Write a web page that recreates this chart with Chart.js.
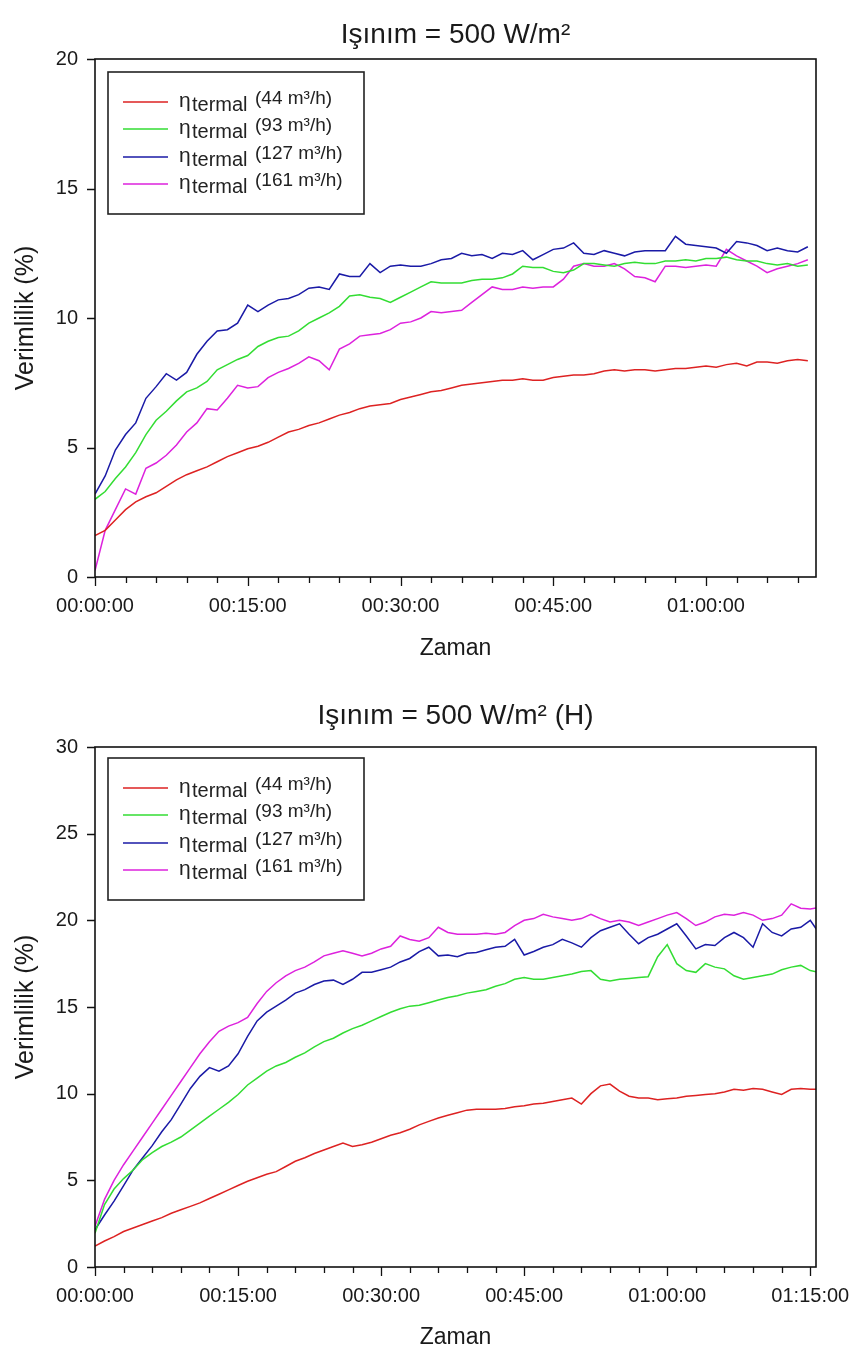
<!DOCTYPE html>
<html>
<head>
<meta charset="utf-8">
<script src="https://cdn.jsdelivr.net/npm/chart.js@4.4.1/dist/chart.umd.min.js"></script>
<style>
  body { margin: 0; background: #fff; }
  .wrap { position: absolute; left: 0; width: 854px; }
</style>
</head>
<body>
<div class="wrap" style="top:0;height:672px"><canvas id="chart-top"></canvas></div>
<div class="wrap" style="top:672px;height:681px"><canvas id="chart-bottom"></canvas></div>
<script>
// shared legend / series info
const flowRates = ['44', '93', '127', '161'];
const lineColors = ['#dd2222', '#33dd33', '#1a1aa6', '#dd22dd'];

// --- top chart: Işınım = 500 W/m² (time in minutes) ---
const time1 = [0,1,2,3,4,5,6,7,8,9,10,11,12,13,14,15,16,17,18,19,20,21,22,23,24,25,26,27,28,29,30,31,32,33,34,35,36,37,38,39,40,41,42,43,44,45,46,47,48,49,50,51,52,53,54,55,56,57,58,59,60,61,62,63,64,65,66,67,68,69,70];
const eff44a = [1.6,1.8,2.2,2.6,2.9,3.1,3.25,3.5,3.75,3.95,4.1,4.25,4.45,4.65,4.8,4.95,5.05,5.2,5.4,5.6,5.7,5.85,5.95,6.1,6.25,6.35,6.5,6.6,6.65,6.7,6.85,6.95,7.05,7.15,7.2,7.3,7.4,7.45,7.5,7.55,7.6,7.6,7.65,7.6,7.6,7.7,7.75,7.8,7.8,7.85,7.95,8.0,7.95,8.0,8.0,7.95,8.0,8.05,8.05,8.1,8.15,8.1,8.2,8.25,8.15,8.3,8.3,8.25,8.35,8.4,8.35];
const eff93a = [3.0,3.3,3.8,4.25,4.8,5.5,6.05,6.4,6.8,7.15,7.3,7.55,8.0,8.2,8.4,8.55,8.9,9.1,9.25,9.3,9.5,9.8,10.0,10.2,10.45,10.85,10.9,10.8,10.75,10.6,10.8,11.0,11.2,11.4,11.35,11.35,11.35,11.45,11.5,11.5,11.55,11.7,12.0,11.95,11.95,11.8,11.75,11.85,12.1,12.1,12.05,12.0,12.1,12.15,12.1,12.1,12.2,12.2,12.25,12.2,12.3,12.3,12.35,12.25,12.2,12.2,12.1,12.05,12.1,12.0,12.05];
const eff127a = [3.2,3.9,4.9,5.5,5.95,6.9,7.35,7.85,7.6,7.9,8.6,9.1,9.5,9.55,9.8,10.5,10.25,10.5,10.7,10.75,10.9,11.15,11.2,11.1,11.7,11.6,11.6,12.1,11.75,12.0,12.05,12.0,12.0,12.1,12.25,12.3,12.5,12.4,12.45,12.3,12.5,12.45,12.6,12.25,12.45,12.65,12.7,12.9,12.5,12.45,12.6,12.5,12.4,12.55,12.6,12.6,12.6,13.15,12.85,12.8,12.75,12.7,12.5,12.95,12.9,12.8,12.6,12.7,12.6,12.55,12.75];
const eff161a = [0.25,1.8,2.6,3.4,3.2,4.2,4.4,4.7,5.1,5.6,5.95,6.5,6.45,6.9,7.4,7.3,7.35,7.7,7.9,8.05,8.25,8.5,8.35,8.0,8.8,9.0,9.3,9.35,9.4,9.55,9.8,9.85,10.0,10.25,10.2,10.25,10.3,10.6,10.9,11.2,11.1,11.1,11.2,11.15,11.2,11.2,11.5,12.0,12.1,12.0,12.0,12.1,11.9,11.6,11.55,11.4,12.0,12.0,11.95,12.0,12.05,12.0,12.65,12.4,12.2,12.0,11.75,11.9,12.0,12.1,12.25];
const xTicks1 = [0, 15, 30, 45, 60];
const xTickLabels1 = ['00:00:00', '00:15:00', '00:30:00', '00:45:00', '01:00:00'];
const xMinor1 = [0,3,6,9,12,15,18,21,24,27,30,33,36,39,42,45,48,51,54,57,60,63,66,69];
const yTicks1 = [0, 5, 10, 15, 20];

// --- bottom chart: Işınım = 500 W/m² (H) ---
const time2 = [0,1,2,3,4,5,6,7,8,9,10,11,12,13,14,15,16,17,18,19,20,21,22,23,24,25,26,27,28,29,30,31,32,33,34,35,36,37,38,39,40,41,42,43,44,45,46,47,48,49,50,51,52,53,54,55,56,57,58,59,60,61,62,63,64,65,66,67,68,69,70,71,72,73,74,75,76];
const eff44b = [1.2,1.5,1.75,2.05,2.25,2.45,2.65,2.85,3.1,3.3,3.5,3.7,3.95,4.2,4.45,4.7,4.95,5.15,5.35,5.5,5.8,6.1,6.3,6.55,6.75,6.95,7.15,6.95,7.05,7.2,7.4,7.6,7.75,7.95,8.2,8.4,8.6,8.75,8.9,9.05,9.1,9.1,9.1,9.15,9.25,9.3,9.4,9.45,9.55,9.65,9.75,9.4,10.0,10.45,10.55,10.15,9.85,9.75,9.75,9.65,9.7,9.75,9.85,9.9,9.95,10.0,10.1,10.25,10.2,10.3,10.25,10.1,9.95,10.25,10.3,10.25,10.25];
const eff93b = [1.95,3.6,4.5,5.1,5.6,6.2,6.6,6.95,7.2,7.5,7.9,8.3,8.7,9.1,9.5,9.95,10.5,10.9,11.3,11.6,11.8,12.1,12.35,12.7,13.0,13.2,13.5,13.75,13.95,14.2,14.45,14.7,14.9,15.05,15.1,15.25,15.4,15.55,15.65,15.8,15.9,16.0,16.2,16.35,16.6,16.7,16.6,16.6,16.7,16.8,16.9,17.05,17.1,16.6,16.5,16.6,16.65,16.7,16.75,17.9,18.6,17.5,17.1,17.0,17.5,17.3,17.2,16.8,16.6,16.7,16.8,16.9,17.15,17.3,17.4,17.1,17.0];
const eff127b = [2.15,3.0,3.8,4.7,5.6,6.3,7.0,7.8,8.5,9.4,10.3,11.0,11.5,11.3,11.6,12.3,13.3,14.2,14.7,15.05,15.4,15.8,16.0,16.3,16.5,16.55,16.3,16.6,17.0,17.0,17.15,17.3,17.6,17.8,18.2,18.45,17.95,18.0,17.9,18.1,18.15,18.3,18.45,18.5,18.9,18.0,18.2,18.45,18.6,18.9,18.7,18.45,19.0,19.4,19.6,19.8,19.2,18.65,19.0,19.2,19.5,19.8,19.1,18.35,18.6,18.55,19.0,19.3,19.0,18.45,19.8,19.3,19.1,19.5,19.6,20.0,19.2];
const eff161b = [2.35,3.9,5.0,5.9,6.7,7.5,8.3,9.1,9.9,10.7,11.5,12.3,13.0,13.6,13.9,14.1,14.4,15.2,15.9,16.4,16.8,17.1,17.3,17.6,17.95,18.1,18.25,18.1,17.95,18.1,18.35,18.5,19.1,18.9,18.8,19.0,19.6,19.3,19.2,19.2,19.2,19.25,19.2,19.3,19.7,20.0,20.1,20.35,20.2,20.1,20.0,20.1,20.35,20.1,19.9,20.0,19.9,19.7,19.9,20.1,20.3,20.45,20.1,19.7,19.9,20.2,20.35,20.3,20.45,20.3,20.0,20.1,20.3,20.95,20.7,20.65,20.75];
const xTicks2 = [0, 15, 30, 45, 60, 75];
const xTickLabels2 = ['00:00:00', '00:15:00', '00:30:00', '00:45:00', '01:00:00', '01:15:00'];
const xMinor2 = [0,3,6,9,12,15,18,21,24,27,30,33,36,39,42,45,48,51,54,57,60,63,66,69,72,75];
const yTicks2 = [0, 5, 10, 15, 20, 25, 30];

const FONT = '"Liberation Sans", Arial, sans-serif';

// title over the plot, box around the plot, outside tick marks and the legend with subscripts
const framePlugin = {
  id: 'frame',
  afterDatasetsDraw(chart, args, opts) {
    const { ctx, chartArea: a, scales } = chart;
    const x = scales.x, y = scales.y;
    ctx.save();

    ctx.fillStyle = '#1a1a1a';
    ctx.textAlign = 'center';
    ctx.textBaseline = 'middle';
    ctx.font = '28px ' + FONT;
    ctx.fillText(opts.title, (a.left + a.right) / 2, opts.titleY);

    ctx.strokeStyle = '#111';
    ctx.lineWidth = 1.6;
    ctx.strokeRect(a.left, a.top, a.right - a.left, a.bottom - a.top);

    ctx.lineWidth = 1.3;
    ctx.beginPath();
    for (const v of opts.yTicks) {
      const py = Math.round(y.getPixelForValue(v)) + 0.5;
      ctx.moveTo(a.left - 8, py);
      ctx.lineTo(a.left, py);
    }
    for (const v of opts.xMinor) {
      const px = Math.round(x.getPixelForValue(v)) + 0.5;
      const len = opts.xTicks.includes(v) ? 9 : 6;
      ctx.moveTo(px, a.bottom);
      ctx.lineTo(px, a.bottom + len);
    }
    ctx.stroke();

    // legend
    const bx = 108, by = a.top + opts.legendTop, bw = 256, bh = 142;
    ctx.fillStyle = '#fff';
    ctx.fillRect(bx, by, bw, bh);
    ctx.strokeStyle = '#222';
    ctx.lineWidth = 1.6;
    ctx.strokeRect(bx, by, bw, bh);
    const rowOffsets = [30, 57, 85, 112];
    flowRates.forEach((rate, i) => {
      const ry = by + rowOffsets[i];
      ctx.strokeStyle = lineColors[i];
      ctx.lineWidth = 1.5;
      ctx.beginPath();
      ctx.moveTo(123, ry);
      ctx.lineTo(168, ry);
      ctx.stroke();
      ctx.fillStyle = '#222';
      ctx.textBaseline = 'alphabetic';
      ctx.textAlign = 'left';
      ctx.font = '21px ' + FONT;
      ctx.fillText('η', 179, ry + 5);
      ctx.font = '20px ' + FONT;
      ctx.fillText('termal', 192, ry + 9);
      ctx.font = '19px ' + FONT;
      ctx.fillText('(' + rate + ' m³/h)', 255, ry + 2);
    });
    ctx.restore();
  }
};

function makeChart(canvasId, cfg) {
  const series = [cfg.s44, cfg.s93, cfg.s127, cfg.s161];
  const ctx = document.getElementById(canvasId).getContext('2d');
  return new Chart(ctx, {
    type: 'line',
    plugins: [framePlugin],
    data: {
      datasets: series.map((vals, i) => ({
        label: flowRates[i],
        data: vals.map((v, k) => ({ x: cfg.time[k], y: v })),
        borderColor: lineColors[i],
        borderWidth: 1.5,
        pointRadius: 0,
        tension: 0,
        fill: false,
      })),
    },
    options: {
      responsive: true,
      maintainAspectRatio: false,
      animation: false,
      layout: { padding: { left: 0, right: 38, top: cfg.plotTop, bottom: 0 } },
      scales: {
        x: {
          type: 'linear',
          min: 0,
          max: cfg.xMax,
          grid: { display: true, drawOnChartArea: false, drawTicks: true, tickLength: 17, tickColor: 'rgba(0,0,0,0)' },
          border: { display: false },
          afterBuildTicks: (s) => { s.ticks = cfg.xTicks.map(v => ({ value: v })); },
          afterFit: (s) => { s.height = cfg.xAxisHeight; },
          ticks: {
            autoSkip: false,
            maxRotation: 0,
            padding: 0,
            color: '#1a1a1a',
            font: { family: FONT, size: 20 },
            callback: (v) => cfg.xLabels[cfg.xTicks.indexOf(v)],
          },
          title: {
            display: true,
            text: 'Zaman',
            color: '#1a1a1a',
            font: { family: FONT, size: 23 },
            padding: { top: 0, bottom: cfg.xTitlePad },
          },
        },
        y: {
          min: 0,
          max: cfg.yMax,
          grid: { display: true, drawOnChartArea: false, drawTicks: true, tickLength: 17, tickColor: 'rgba(0,0,0,0)' },
          border: { display: false },
          afterBuildTicks: (s) => { s.ticks = cfg.yTicks.map(v => ({ value: v })); },
          afterFit: (s) => { s.width = 95; },
          ticks: {
            padding: 0,
            color: '#1a1a1a',
            font: { family: FONT, size: 20 },
          },
          title: {
            display: true,
            text: 'Verimlilik (%)',
            color: '#1a1a1a',
            font: { family: FONT, size: 25 },
            padding: { top: 11, bottom: 0 },
          },
        },
      },
      plugins: {
        legend: { display: false },
        tooltip: { enabled: false },
        title: { display: false },
        frame: {
          title: cfg.title,
          titleY: cfg.titleY,
          yTicks: cfg.yTicks,
          xTicks: cfg.xTicks,
          xMinor: cfg.xMinor,
          legendTop: cfg.legendTop,
        },
      },
    },
  });
}

makeChart('chart-top', {
  title: 'Işınım = 500 W/m²',
  time: time1, s44: eff44a, s93: eff93a, s127: eff127a, s161: eff161a,
  xMax: 70.8, yMax: 20,
  xTicks: xTicks1, xLabels: xTickLabels1, xMinor: xMinor1, yTicks: yTicks1,
  plotTop: 59, titleY: 35,
  xAxisHeight: 95, xTitlePad: 10, legendTop: 13,
});

makeChart('chart-bottom', {
  title: 'Işınım = 500 W/m² (H)',
  time: time2, s44: eff44b, s93: eff93b, s127: eff127b, s161: eff161b,
  xMax: 75.6, yMax: 30,
  xTicks: xTicks2, xLabels: xTickLabels2, xMinor: xMinor2, yTicks: yTicks2,
  plotTop: 75, titleY: 44,
  xAxisHeight: 86, xTitlePad: 2, legendTop: 11,
});
</script>
</body>
</html>
